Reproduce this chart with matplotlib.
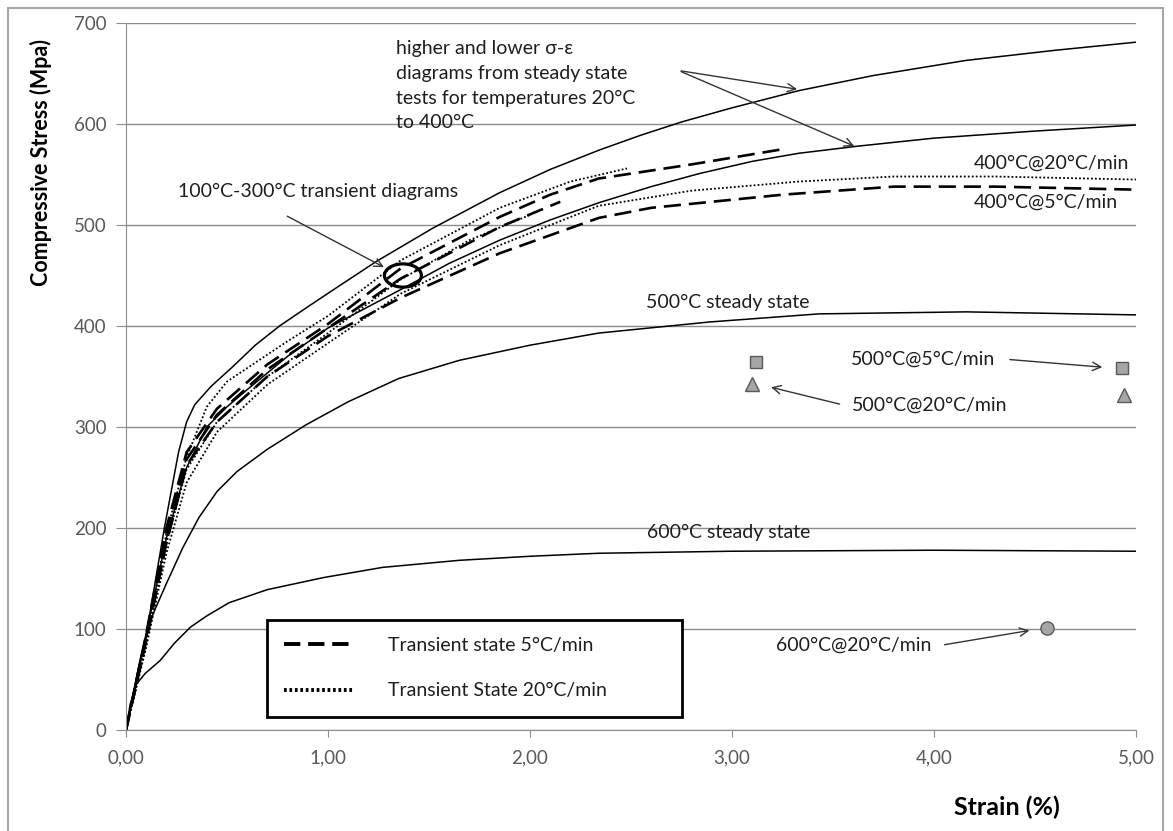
import matplotlib
matplotlib.use("Agg")
import matplotlib.pyplot as plt
from matplotlib.lines import Line2D
from matplotlib.patches import Ellipse, Rectangle
from matplotlib.ticker import FuncFormatter

plt.rcParams['font.family'] = ['Lato', 'DejaVu Sans']

# steady state curves (strain %, stress MPa)
hi_x = [0, 0.05, 0.105, 0.19, 0.26, 0.30, 0.34, 0.42, 0.53, 0.64, 0.76, 0.9, 1.02, 1.24, 1.52, 1.85, 2.1, 2.34,
        2.55, 2.75, 3.0, 3.33, 3.7, 4.16, 4.6, 5.0]
hi_y = [0, 50, 100, 200, 275, 305, 322, 340, 360, 381, 400, 419, 435, 464, 497, 532, 555, 574,
        589, 602, 616, 633, 648, 663, 673, 681]

lo_x = [0, 0.05, 0.1, 0.2, 0.3, 0.4, 0.5, 0.6, 0.8, 1.0, 1.35, 1.6, 1.85, 2.1, 2.34, 2.6, 2.84, 3.1, 3.33, 3.62,
        4.0, 4.5, 5.0]
lo_y = [0, 45, 95, 190, 260, 300, 320, 337, 370, 398, 435, 462, 485, 505, 522, 538, 551, 563, 571, 578,
        586, 593, 599]

s500_x = [0, 0.03, 0.07, 0.134, 0.2, 0.28, 0.36, 0.45, 0.55, 0.7, 0.89, 1.1, 1.35, 1.65, 2.0, 2.34, 2.89, 3.43,
          4.16, 5.0]
s500_y = [0, 30, 70, 115, 145, 180, 210, 236, 256, 278, 302, 325, 348, 366, 381, 393, 404, 412,
          414, 411]

s600_x = [0, 0.02, 0.05, 0.095, 0.17, 0.24, 0.32, 0.4, 0.51, 0.7, 0.98, 1.27, 1.65, 2.0, 2.34, 3.0, 4.0, 5.0]
s600_y = [0, 25, 45, 56, 69, 86, 102, 113, 126, 139, 151, 161, 168, 172, 175, 177, 178, 177]

# transient 5 C/min (dashed)
d400_x = [0, 0.1, 0.2, 0.3, 0.45, 0.7, 1.0, 1.36, 1.85, 2.34, 2.6, 3.25, 3.8, 4.3, 5.0]
d400_y = [0, 88, 185, 262, 305, 350, 390, 428, 472, 507, 517, 530, 538, 538, 535]
da_x = [0, 0.1, 0.2, 0.3, 0.45, 0.7, 1.0, 1.36, 1.85, 2.1, 2.34, 2.8, 3.25]
da_y = [0, 95, 200, 275, 318, 362, 402, 457, 508, 530, 546, 560, 575]
db_x = [0, 0.1, 0.2, 0.3, 0.45, 0.7, 1.0, 1.36, 1.85, 2.15]
db_y = [0, 92, 195, 268, 312, 357, 398, 447, 498, 523]

# transient 20 C/min (dotted)
t400_x = [0, 0.1, 0.2, 0.3, 0.45, 0.7, 1.0, 1.36, 1.85, 2.34, 2.8, 3.33, 3.8, 4.3, 5.0]
t400_y = [0, 82, 175, 245, 295, 342, 383, 432, 480, 519, 534, 543, 548, 548, 545]
ta_x = [0, 0.1, 0.2, 0.3, 0.4, 0.5, 0.8, 1.0, 1.36, 1.85, 2.2, 2.48]
ta_y = [0, 90, 195, 270, 320, 345, 385, 410, 465, 517, 543, 556]
tb_x = [0, 0.1, 0.2, 0.3, 0.45, 0.7, 1.0, 1.36, 1.7, 2.0]
tb_y = [0, 85, 185, 258, 305, 350, 393, 446, 485, 510]

# single test points
sq_x = [3.12, 4.93]
sq_y = [364, 358]
tri_x = [3.10, 4.94]
tri_y = [343, 332]
circ_x = [4.56]
circ_y = [101]

fig = plt.figure(figsize=(11.73, 8.31), dpi=100)
fig.patches.append(Rectangle((8 / 1173, -0.05), (1163 - 8) / 1173, 1.05 - 8 / 831,
                             transform=fig.transFigure, fill=False,
                             edgecolor='#a6a6a6', lw=1.5))
ax = fig.add_axes([126 / 1173, 1 - 730 / 831, 1010 / 1173, 707 / 831])

dash = (0, (6.5, 3.0))
dot = (0, (1, 1.2))

for xs, ys in [(hi_x, hi_y), (lo_x, lo_y), (s500_x, s500_y), (s600_x, s600_y)]:
    ax.plot(xs, ys, color='black', lw=1.1)
for xs, ys in [(d400_x, d400_y), (da_x, da_y), (db_x, db_y)]:
    ax.plot(xs, ys, color='black', lw=1.9, ls=dash)
for xs, ys in [(t400_x, t400_y), (ta_x, ta_y), (tb_x, tb_y)]:
    ax.plot(xs, ys, color='black', lw=1.3, ls=dot)

mk = dict(ls='none', markerfacecolor='#a6a6a6', markeredgecolor='#595959', markeredgewidth=1)
ax.plot(sq_x, sq_y, marker='s', ms=9, **mk)
ax.plot(tri_x, tri_y, marker='^', ms=9.5, **mk)
ax.plot(circ_x, circ_y, marker='o', ms=9.5, **mk)

ax.add_patch(Ellipse((1.371, 450), 0.183, 23, fill=False, edgecolor='black', lw=2.3))

ax.set_xlim(0, 5)
ax.set_ylim(0, 700)
ax.set_xticks([0, 1, 2, 3, 4, 5])
ax.set_yticks(range(0, 701, 100))
ax.xaxis.set_major_formatter(FuncFormatter(lambda v, p: f"{v:.2f}".replace('.', ',')))
ax.yaxis.grid(True, color='#8c8c8c', lw=1)
ax.set_axisbelow(True)
for s in ['top', 'right']:
    ax.spines[s].set_visible(False)
for s in ['left', 'bottom']:
    ax.spines[s].set_color('#8c8c8c')
ax.tick_params(axis='y', length=7, color='#8c8c8c', labelsize=13.5, labelcolor='#595959', pad=7)
ax.tick_params(axis='x', length=5, color='#8c8c8c', labelsize=13.5, labelcolor='#595959', pad=9)

fig.text(41 / 1173, 1 - 162 / 831, 'Compressive Stress (Mpa)', rotation=90,
         ha='center', va='center', fontsize=15.5, fontweight='bold')
fig.text(1007 / 1173, 1 - 807 / 831, 'Strain (%)', ha='center', va='center',
         fontsize=18, fontweight='bold')

tc = '#1e1e1e'
fs = 14
ax.text(1.335, 683, 'higher and lower σ-ε\ndiagrams from steady state\ntests for temperatures 20°C\nto 400°C',
        ha='left', va='top', fontsize=fs, color=tc, linespacing=1.55)
arr = dict(arrowstyle='->', color='#333333', lw=1.0, mutation_scale=15)
ax.annotate('', xy=(3.336, 634), xytext=(2.735, 653), arrowprops=arr)
ax.annotate('', xy=(3.618, 577), xytext=(2.735, 653), arrowprops=arr)

ax.text(0.257, 533, '100°C-300°C transient diagrams', ha='left', va='center', fontsize=fs, color=tc)
ax.annotate('', xy=(1.289, 457), xytext=(0.786, 510), arrowprops=arr)

ax.text(4.199, 561, '400°C@20°C/min', ha='left', va='center', fontsize=fs, color=tc)
ax.text(4.199, 523, '400°C@5°C/min', ha='left', va='center', fontsize=fs, color=tc)
ax.text(2.572, 423, '500°C steady state', ha='left', va='center', fontsize=fs, color=tc)
ax.text(2.577, 196, '600°C steady state', ha='left', va='center', fontsize=fs, color=tc)

ax.text(3.589, 367, '500°C@5°C/min', ha='left', va='center', fontsize=fs, color=tc)
ax.annotate('', xy=(4.847, 359), xytext=(4.362, 367), arrowprops=arr)
ax.text(3.595, 322, '500°C@20°C/min', ha='left', va='center', fontsize=fs, color=tc)
ax.annotate('', xy=(3.18, 340), xytext=(3.546, 322), arrowprops=arr)
ax.text(3.22, 84, '600°C@20°C/min', ha='left', va='center', fontsize=fs, color=tc)
ax.annotate('', xy=(4.486, 99), xytext=(4.039, 84), arrowprops=arr)

handles = [Line2D([], [], color='black', lw=2.8, ls=(0, (4.2, 2.0))),
           Line2D([], [], color='black', lw=2.8, ls=(0, (0.7, 0.7)))]
leg = ax.legend(handles, ['Transient state 5°C/min', 'Transient State 20°C/min'],
                loc='lower left', bbox_to_anchor=(0.1396, 0.0184, 0.411, 0.15), mode='expand',
                fontsize=fs, frameon=True, fancybox=False, framealpha=1,
                handlelength=3.5, handletextpad=1.8, labelspacing=1.45, borderpad=0.9,
                borderaxespad=0)
leg.get_frame().set_edgecolor('black')
leg.get_frame().set_linewidth(2)
for t in leg.get_texts():
    t.set_color(tc)

fig.savefig('out.png', dpi=100)
